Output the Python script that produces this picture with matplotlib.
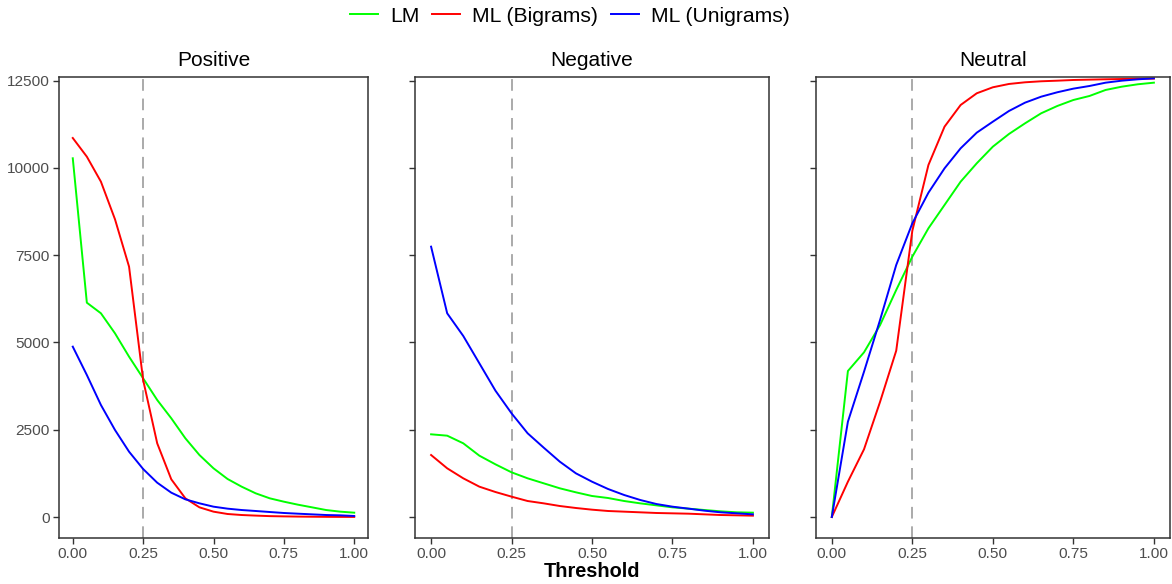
"""
    THRESHOLD vs NUMBER OF CLASSIFIED TEXTS (3 panels)
"""
import numpy as np
from matplotlib import pyplot as plt
from matplotlib.lines import Line2D

plt.rcParams['font.family'] = ['Liberation Sans', 'DejaVu Sans']

# -- Data --
thresholds = [round(0.05 * i, 2) for i in range(21)]

pos_lm = [10277, 6140, 5836, 5262, 4593, 3973, 3352, 2828, 2255, 1776, 1395,
          1089, 869, 678, 535, 439, 353, 277, 200, 153, 124]
pos_bigrams = [10858, 10323, 9607, 8529, 7171, 3925, 2111, 1080, 535, 277, 153,
               86, 57, 40, 25, 18, 12, 8, 5, 3, 2]
pos_unigrams = [4880, 4068, 3209, 2493, 1871, 1375, 983, 697, 506, 392, 296,
                239, 200, 172, 143, 115, 95, 76, 57, 48, 29]

neg_lm = [2369, 2330, 2111, 1757, 1509, 1280, 1108, 965, 822, 707, 602,
          544, 458, 391, 334, 277, 239, 200, 162, 134, 124]
neg_bigrams = [1776, 1395, 1108, 869, 716, 583, 458, 391, 315, 258, 210,
               172, 153, 134, 115, 105, 95, 76, 57, 48, 38]
neg_unigrams = [7745, 5836, 5186, 4403, 3619, 2970, 2398, 1986, 1585, 1251, 1012,
                802, 630, 487, 372, 296, 239, 181, 134, 105, 76]

neu_lm = [0, 4183, 4718, 5501, 6504, 7459, 8271, 8939, 9607, 10133, 10610,
          10973, 11279, 11566, 11775, 11947, 12062, 12234, 12328, 12397, 12443]
neu_bigrams = [0, 1012, 1940, 3304, 4765, 8200, 10085, 11183, 11804, 12139, 12311,
               12406, 12454, 12483, 12500, 12520, 12530, 12540, 12548, 12555, 12560]
neu_unigrams = [0, 2731, 4163, 5650, 7220, 8414, 9291, 9989, 10563, 11011, 11326,
                11632, 11871, 12042, 12168, 12272, 12348, 12443, 12500, 12539, 12568]

panels = ["Positive", "Negative", "Neutral"]
series = {
    "Positive": (pos_lm, pos_bigrams, pos_unigrams),
    "Negative": (neg_lm, neg_bigrams, neg_unigrams),
    "Neutral": (neu_lm, neu_bigrams, neu_unigrams),
}
labels = ["LM", "ML (Bigrams)", "ML (Unigrams)"]
colors = ["#00FF00", "#FF0000", "#0000FF"]
cutoff = 0.25

# -- Figure layout (pixel boxes) --
W, H = 1172, 584
fig = plt.figure(figsize=(W / 100, H / 100), dpi=100)
boxes = [(58.7, 368.3), (415, 769), (815.7, 1170)]
top_px, bot_px = 77.3, 537.7

axes = []
for (l, r), name in zip(boxes, panels):
    ax = fig.add_axes([l / W, 1 - bot_px / H, (r - l) / W, (bot_px - top_px) / H])
    axes.append(ax)
    ax.axvline(cutoff, color="#AAAAAA", linestyle=(0, (6, 4)), linewidth=1.4, zorder=1)
    for vals, col in zip(series[name], colors):
        ax.plot(thresholds, vals, color=col, linewidth=1.4, zorder=2)
    ax.set_xlim(-0.05, 1.05)
    ax.set_ylim(-593, 12597)
    ax.set_xticks([0, 0.25, 0.5, 0.75, 1.0])
    ax.set_xticklabels(["0.00", "0.25", "0.50", "0.75", "1.00"])
    ax.set_yticks([0, 2500, 5000, 7500, 10000, 12500])
    ax.tick_params(axis="both", direction="out", length=4, width=1,
                   color="#333333", labelcolor="#4D4D4D", labelsize=11.1, pad=2.5)
    for sp in ax.spines.values():
        sp.set_color("#333333")
        sp.set_linewidth(1.1)
    ax.set_title(name, fontsize=15, pad=8)

for ax in axes[1:]:
    ax.set_yticklabels([])

axes[1].set_xlabel("Threshold", fontsize=14.4, fontweight="bold", labelpad=1)

# -- Common legend on top --
handles = [Line2D([0], [0], color=c, linewidth=1.4) for c in colors]
fig.legend(handles, labels, loc="center", bbox_to_anchor=(0.486, 1 - 16 / H),
           ncol=3, frameon=False, fontsize=15.2, handlelength=1.35,
           handletextpad=0.55, columnspacing=0.6)

fig.savefig("out.png", dpi=100)
